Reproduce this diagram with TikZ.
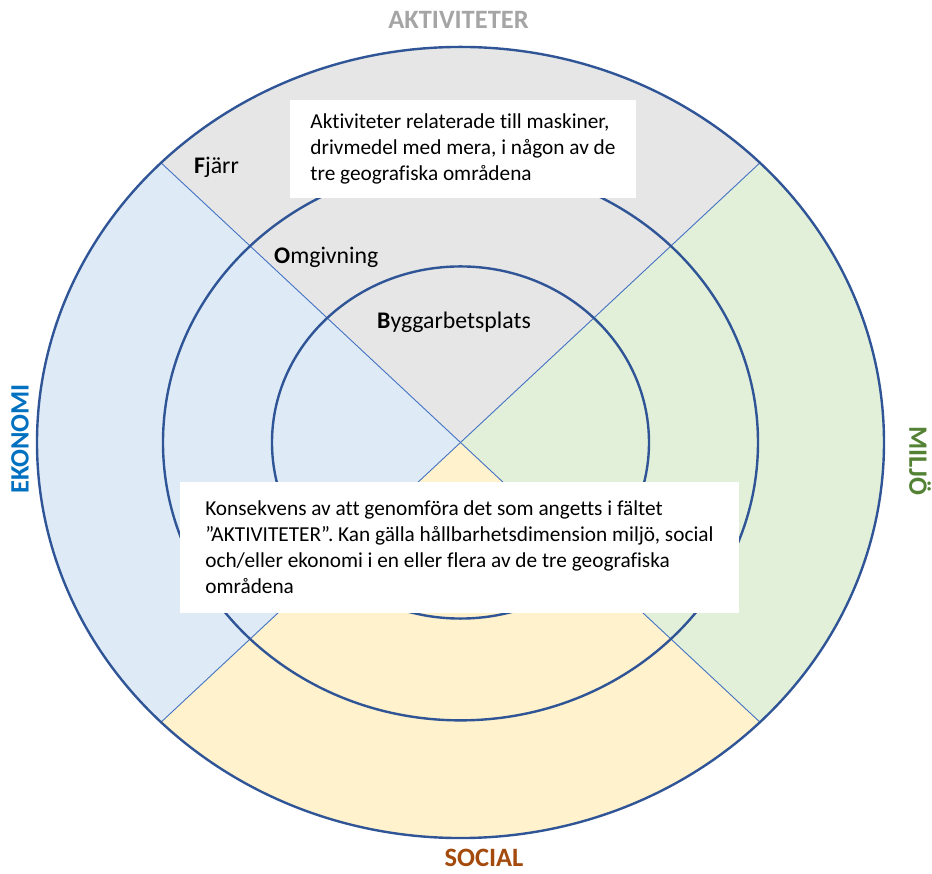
\documentclass[tikz,border=0pt]{standalone}
\usepackage{fontspec}
\setmainfont{Carlito}[Ligatures=NoCommon]

\definecolor{ringblue}{HTML}{2F5597}
\definecolor{splitblue}{HTML}{4472C4}
\definecolor{aktgray}{HTML}{E7E6E6}
\definecolor{ekoblue}{HTML}{DEEBF7}
\definecolor{miljogreen}{HTML}{E2F0D9}
\definecolor{socyellow}{HTML}{FFF2CC}
\definecolor{akttext}{HTML}{A5A5A5}
\definecolor{ekotext}{HTML}{0070C0}
\definecolor{miljotext}{HTML}{548235}
\definecolor{soctext}{HTML}{A34A0C}

\begin{document}
\begin{tikzpicture}[x=1pt, y=1pt,
    ring/.style={line width=2.4pt, ringblue},
    split/.style={line width=0.9pt, splitblue},
    dimlabel/.style={font=\fontsize{26.5}{30}\selectfont\bfseries, inner sep=0pt},
    zonelabel/.style={font=\fontsize{23.8}{28}\selectfont, anchor=west, inner sep=0pt},
    infobox/.style={fill=white, align=left, inner sep=0pt, font=\fontsize{21.3}{26}\selectfont}]
    \useasboundingbox (-460.5,-431.5) rectangle (471.5,442.5);

    \begin{scope}[yscale=0.934]
        \coordinate (c) at (0,0);
        \coordinate (ne) at (45:423.5);
        \coordinate (nw) at (135:423.5);
        \coordinate (sw) at (225:423.5);
        \coordinate (se) at (315:423.5);

        % the four dimensions
        \fill[aktgray] (c) -- (ne) arc[start angle=45,end angle=135,radius=423.5] -- cycle;
        \fill[ekoblue] (c) -- (nw) arc[start angle=135,end angle=225,radius=423.5] -- cycle;
        \fill[socyellow] (c) -- (sw) arc[start angle=225,end angle=315,radius=423.5] -- cycle;
        \fill[miljogreen] (c) -- (se) arc[start angle=-45,end angle=45,radius=423.5] -- cycle;

        \draw[split] (c) -- (ne);
        \draw[split] (c) -- (nw);
        \draw[split] (c) -- (sw);
        \draw[split] (c) -- (se);

        % Fjärr, Omgivning, Byggarbetsplats
        \draw[ring] (c) circle (423.5);
        \draw[ring] (c) circle (297.5);
        \draw[ring] (c) circle (188.5);
    \end{scope}

    \node[infobox, minimum width=346pt, minimum height=98pt] (aktbox) at (2.5,293.5)
        {Aktiviteter relaterade till maskiner,\\ drivmedel med mera, i någon av de\\ tre geografiska områdena};
    \node[infobox, minimum width=559pt, minimum height=131pt] (konsbox) at (-1,-105)
        {Konsekvens av att genomföra det som angetts i fältet\\ ”AKTIVITETER”. Kan gälla hållbarhetsdimension miljö, social\\ och/eller ekonomi i en eller flera av de tre geografiska\\ områdena};

    \node[zonelabel] (fjarr) at (-266.5,275.5) {\textbf{F}järr};
    \node[zonelabel] (omgivning) at (-186.5,185.5) {\textbf{O}mgivning};
    \node[zonelabel] (bygg) at (-83.5,120.5) {\textbf{B}yggarbetsplats};

    \node[dimlabel, akttext] (aktivitet) at (-2,423) {AKTIVITETER};
    \node[dimlabel, soctext] (social) at (23.5,-415) {SOCIAL};
    \node[dimlabel, ekotext, rotate=90] (ekonomi) at (-440.5,3.5) {EKONOMI};
    \node[dimlabel, miljotext, rotate=-90] (miljo) at (459.5,-18.5) {MILJÖ};
\end{tikzpicture}
\end{document}
